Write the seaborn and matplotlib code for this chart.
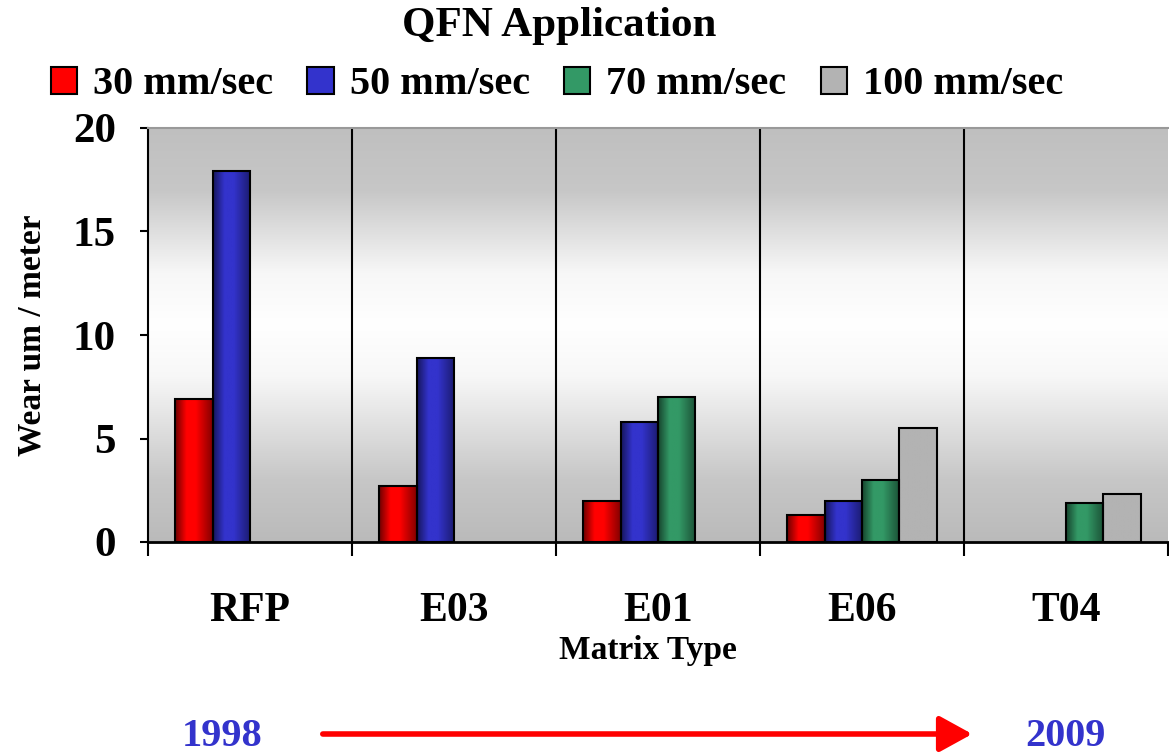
import numpy as np
import pandas as pd
import seaborn as sns
import matplotlib.pyplot as plt
from matplotlib.patches import Patch, FancyArrowPatch
from matplotlib.colors import to_rgb

matrix_types = ['RFP', 'E03', 'E01', 'E06', 'T04']
speeds = ['30 mm/sec', '50 mm/sec', '70 mm/sec', '100 mm/sec']
wear_30 = [6.9, 2.7, 2.0, 1.3, None]
wear_50 = [17.9, 8.9, 5.8, 2.0, None]
wear_70 = [None, None, 7.0, 3.0, 1.9]
wear_100 = [None, None, None, 5.5, 2.3]
years = ['1998', '2009']

colors = ['#ff0000', '#3333cc', '#339966', '#b3b3b3']
dark_colors = ['#6e0000', '#17175e', '#17452e', '#b3b3b3']

rows = []
for speed, vals in zip(speeds, [wear_30, wear_50, wear_70, wear_100]):
    for m, v in zip(matrix_types, vals):
        if v is not None:
            rows.append({'matrix': m, 'speed': speed, 'wear': v})
df = pd.DataFrame(rows)

plt.rcParams['font.family'] = ['Liberation Serif', 'DejaVu Serif']
plt.rcParams['font.weight'] = 'bold'

fig = plt.figure(figsize=(11.69, 7.54), dpi=100)
ax = fig.add_axes([148 / 1169, 1 - 542 / 754, 1020 / 1169, 414 / 754])

sns.barplot(
    data=df, x='matrix', y='wear', hue='speed',
    order=matrix_types, hue_order=speeds, palette=colors,
    saturation=1, width=0.735, errorbar=None,
    edgecolor='black', linewidth=1.5, legend=False, ax=ax
)

# shaded (cylinder-like) fill on the bars
prof_x = np.linspace(0, 1, 60)
prof = np.interp(prof_x, [0, 0.3, 0.55, 1.0], [0.0, 1.0, 1.0, 0.15])
for bar in list(ax.patches):
    h = bar.get_height()
    if not np.isfinite(h) or h <= 0:
        continue
    fc = np.array(bar.get_facecolor()[:3])
    idx = int(np.argmin([np.sum((fc - np.array(to_rgb(c))) ** 2) for c in colors]))
    bright = np.array(to_rgb(colors[idx]))
    dark = np.array(to_rgb(dark_colors[idx]))
    grad = dark[None, :] + prof[:, None] * (bright - dark)[None, :]
    x0 = bar.get_x()
    w = bar.get_width()
    im = ax.imshow(grad[None, :, :], extent=[x0, x0 + w, 0, h], aspect='auto',
                   zorder=2.5, interpolation='bilinear')
    im.set_clip_path(bar)
    bar.set_facecolor('none')
    bar.set_zorder(3)

# background gradient
yy = np.linspace(20, 0, 200)
shade = np.interp(yy, [0, 3, 8, 10.5, 13, 17, 20], [0.73, 0.78, 0.97, 1.0, 0.97, 0.78, 0.75])
bg = np.repeat(shade[:, None, None], 3, axis=2)
ax.imshow(bg, extent=[-0.5, 4.5, 0, 20], aspect='auto', zorder=0, interpolation='bilinear')

ax.set_xlim(-0.5, 4.5)
ax.set_ylim(0, 20)

for xb in np.arange(0.5, 4.5, 1):
    ax.axvline(xb, color='black', lw=1.5, zorder=1)

ax.set_yticks([0, 5, 10, 15, 20])
ax.tick_params(axis='y', direction='out', length=6, width=1.5, labelsize=31, pad=17)
ax.set_xticks(range(len(matrix_types)))
ax.set_xticklabels(matrix_types)
ax.set_xticks(np.arange(-0.5, 5.0, 1), minor=True)
ax.tick_params(axis='x', which='major', length=0, labelsize=30, pad=36)
ax.tick_params(axis='x', which='minor', direction='out', length=10, width=1.5)
for lab in ax.get_xticklabels() + ax.get_yticklabels():
    lab.set_fontweight('bold')

ax.spines['right'].set_visible(False)
ax.spines['top'].set_color('#999999')
ax.spines['top'].set_linewidth(1.5)
ax.spines['left'].set_linewidth(1.5)
ax.spines['bottom'].set_linewidth(2)
ax.set_xlabel('')
ax.set_ylabel('Wear um / meter', fontsize=24, fontweight='bold', labelpad=18)

fig.text(648 / 1169, 1 - 650 / 754, 'Matrix Type', ha='center', va='center',
         fontsize=24, fontweight='bold')
fig.text(559 / 1169, 1 - 26 / 754, 'QFN Application', ha='center', va='center',
         fontsize=31, fontweight='bold')

handles = [Patch(facecolor=c, edgecolor='black', linewidth=1.5) for c in colors]
fig.legend(handles, speeds, loc='center', bbox_to_anchor=(557 / 1169, 1 - 85 / 754),
           ncol=4, frameon=False, handlelength=0.65, handleheight=0.65,
           handletextpad=0.4, columnspacing=0.85, borderaxespad=0,
           prop={'size': 29, 'weight': 'bold'})

# timeline
fig.text(222 / 1169, 1 - 737 / 754, years[0], ha='center', va='center',
         fontsize=29, fontweight='bold', color='#3333cc')
fig.text(1065 / 1169, 1 - 737 / 754, years[1], ha='center', va='center',
         fontsize=29, fontweight='bold', color='#3333cc')
fig.patches.append(FancyArrowPatch(
    (320 / 1169, 1 - 734 / 754), (975 / 1169, 1 - 734 / 754),
    transform=fig.transFigure, arrowstyle='-|>,head_length=1.0,head_width=0.55',
    mutation_scale=20, lw=4, color='#ff0000'))

fig.savefig('out.png', dpi=100, facecolor='white')
